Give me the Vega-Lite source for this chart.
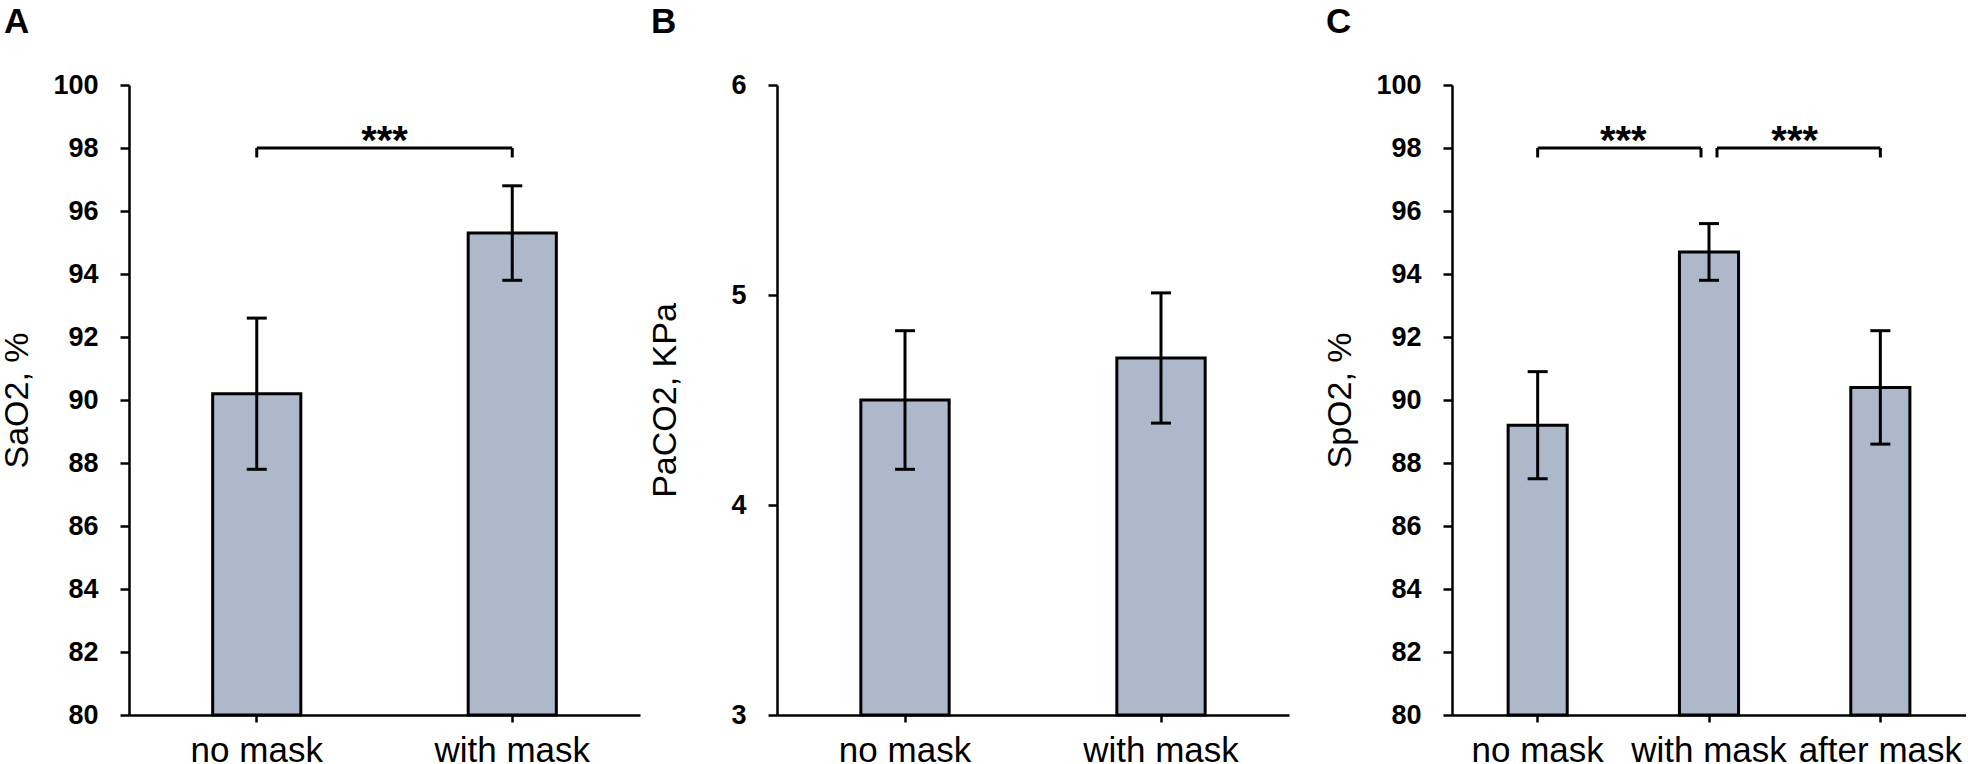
{
  "$schema": "https://vega.github.io/schema/vega-lite/v6.json",
  "padding": {"left": 0, "top": 5, "right": 0, "bottom": 0},
  "background": "white",
  "spacing": 34,
  "datasets": {
    "bars": [
      {"panel": "A", "group": "no mask", "value": 90.2, "lo": 87.8, "hi": 92.6},
      {"panel": "A", "group": "with mask", "value": 95.3, "lo": 93.8, "hi": 96.8},
      {"panel": "B", "group": "no mask", "value": 4.5, "lo": 4.17, "hi": 4.83},
      {"panel": "B", "group": "with mask", "value": 4.7, "lo": 4.39, "hi": 5.01},
      {"panel": "C", "group": "no mask", "value": 89.2, "lo": 87.5, "hi": 90.9},
      {"panel": "C", "group": "with mask", "value": 94.7, "lo": 93.8, "hi": 95.6},
      {"panel": "C", "group": "after mask", "value": 90.4, "lo": 88.6, "hi": 92.2}
    ],
    "brackets": [
      {"id": "A1", "from": "no mask", "to": "with mask", "y": 98, "drop": 97.7, "label": "***"},
      {"id": "C1", "from": "no mask", "to": "with mask", "y": 98, "drop": 97.7, "label": "***"},
      {"id": "C2", "from": "with mask", "to": "after mask", "y": 98, "drop": 97.7, "label": "***"}
    ]
  },
  "hconcat": [
    {
      "bounds": "flush",
      "spacing": 137,
      "hconcat": [
        {
          "title": {"text": "A", "anchor": "start", "frame": "group", "dx": -125, "fontSize": 35, "fontWeight": "bold", "baseline": "top", "offset": 31, "font": "Liberation Sans", "color": "black"},
          "width": 511,
          "height": 630,
          "layer": [
            {
              "data": {"name": "bars"},
              "transform": [{"filter": "datum.panel === 'A'"}],
              "mark": {"type": "bar", "fill": "#adb9cb", "stroke": "black", "strokeWidth": 3, "width": {"band": 0.345}},
              "encoding": {
                "x": {"field": "group", "type": "nominal", "scale": {"domain": ["no mask", "with mask"], "paddingInner": 0, "paddingOuter": 0}, "axis": {"title": null}},
                "y": {"field": "value", "type": "quantitative", "scale": {"domain": [80, 100], "nice": false, "zero": false}, "axis": {"title": "SaO2, %", "values": [80, 82, 84, 86, 88, 90, 92, 94, 96, 98, 100], "titleX": -95, "titleY": 315}},
                "y2": {"datum": 80}
              }
            },
            {
              "data": {"name": "bars"},
              "transform": [{"filter": "datum.panel === 'A'"}],
              "mark": {"type": "rule", "strokeWidth": 3, "color": "black"},
              "encoding": {"x": {"field": "group", "type": "nominal"}, "y": {"field": "lo", "type": "quantitative"}, "y2": {"field": "hi"}}
            },
            {
              "data": {"name": "bars"},
              "transform": [{"filter": "datum.panel === 'A'"}],
              "mark": {"type": "tick", "thickness": 3, "size": 20, "color": "black", "opacity": 1},
              "encoding": {"x": {"field": "group", "type": "nominal"}, "y": {"field": "lo", "type": "quantitative"}}
            },
            {
              "data": {"name": "bars"},
              "transform": [{"filter": "datum.panel === 'A'"}],
              "mark": {"type": "tick", "thickness": 3, "size": 20, "color": "black", "opacity": 1},
              "encoding": {"x": {"field": "group", "type": "nominal"}, "y": {"field": "hi", "type": "quantitative"}}
            },
            {
              "data": {"name": "brackets"},
              "transform": [{"filter": "datum.id === 'A1'"}],
              "mark": {"type": "rule", "strokeWidth": 3, "color": "black"},
              "encoding": {"x": {"field": "from", "type": "nominal"}, "x2": {"field": "to"}, "y": {"field": "y", "type": "quantitative"}}
            },
            {
              "data": {"name": "brackets"},
              "transform": [{"filter": "datum.id === 'A1'"}],
              "mark": {"type": "rule", "strokeWidth": 3, "color": "black"},
              "encoding": {"x": {"field": "from", "type": "nominal"}, "y": {"field": "y", "type": "quantitative"}, "y2": {"field": "drop"}}
            },
            {
              "data": {"name": "brackets"},
              "transform": [{"filter": "datum.id === 'A1'"}],
              "mark": {"type": "rule", "strokeWidth": 3, "color": "black"},
              "encoding": {"x": {"field": "to", "type": "nominal"}, "y": {"field": "y", "type": "quantitative"}, "y2": {"field": "drop"}}
            },
            {
              "data": {"name": "brackets"},
              "transform": [{"filter": "datum.id === 'A1'"}],
              "mark": {"type": "text", "fontSize": 40, "fontWeight": "bold", "baseline": "alphabetic", "dy": 6, "align": "center", "color": "black"},
              "encoding": {"x": {"field": "from", "type": "nominal", "bandPosition": 1}, "y": {"field": "y", "type": "quantitative"}, "text": {"field": "label"}}
            }
          ]
        },
        {
          "title": {"text": "B", "anchor": "start", "frame": "group", "dx": -126, "fontSize": 35, "fontWeight": "bold", "baseline": "top", "offset": 31, "font": "Liberation Sans", "color": "black"},
          "width": 512,
          "height": 630,
          "layer": [
            {
              "data": {"name": "bars"},
              "transform": [{"filter": "datum.panel === 'B'"}],
              "mark": {"type": "bar", "fill": "#adb9cb", "stroke": "black", "strokeWidth": 3, "width": {"band": 0.345}},
              "encoding": {
                "x": {"field": "group", "type": "nominal", "scale": {"domain": ["no mask", "with mask"], "paddingInner": 0, "paddingOuter": 0}, "axis": {"title": null}},
                "y": {"field": "value", "type": "quantitative", "scale": {"domain": [3, 6], "nice": false, "zero": false}, "axis": {"title": "PaCO2, KPa", "values": [3, 4, 5, 6], "format": "d", "titleX": -95, "titleY": 315}},
                "y2": {"datum": 3}
              }
            },
            {
              "data": {"name": "bars"},
              "transform": [{"filter": "datum.panel === 'B'"}],
              "mark": {"type": "rule", "strokeWidth": 3, "color": "black"},
              "encoding": {"x": {"field": "group", "type": "nominal"}, "y": {"field": "lo", "type": "quantitative"}, "y2": {"field": "hi"}}
            },
            {
              "data": {"name": "bars"},
              "transform": [{"filter": "datum.panel === 'B'"}],
              "mark": {"type": "tick", "thickness": 3, "size": 20, "color": "black", "opacity": 1},
              "encoding": {"x": {"field": "group", "type": "nominal"}, "y": {"field": "lo", "type": "quantitative"}}
            },
            {
              "data": {"name": "bars"},
              "transform": [{"filter": "datum.panel === 'B'"}],
              "mark": {"type": "tick", "thickness": 3, "size": 20, "color": "black", "opacity": 1},
              "encoding": {"x": {"field": "group", "type": "nominal"}, "y": {"field": "hi", "type": "quantitative"}}
            }
          ]
        }
      ]
    },
    {
      "title": {"text": "C", "anchor": "start", "frame": "group", "dx": -126, "fontSize": 35, "fontWeight": "bold", "baseline": "top", "offset": 31, "font": "Liberation Sans", "color": "black"},
      "width": 514,
      "height": 630,
      "layer": [
        {
          "data": {"name": "bars"},
          "transform": [{"filter": "datum.panel === 'C'"}],
          "mark": {"type": "bar", "fill": "#adb9cb", "stroke": "black", "strokeWidth": 3, "width": {"band": 0.345}},
          "encoding": {
            "x": {"field": "group", "type": "nominal", "scale": {"domain": ["no mask", "with mask", "after mask"], "paddingInner": 0, "paddingOuter": 0}, "axis": {"title": null}},
            "y": {"field": "value", "type": "quantitative", "scale": {"domain": [80, 100], "nice": false, "zero": false}, "axis": {"title": "SpO2, %", "values": [80, 82, 84, 86, 88, 90, 92, 94, 96, 98, 100], "titleX": -95, "titleY": 315}},
            "y2": {"datum": 80}
          }
        },
        {
          "data": {"name": "bars"},
          "transform": [{"filter": "datum.panel === 'C'"}],
          "mark": {"type": "rule", "strokeWidth": 3, "color": "black"},
          "encoding": {"x": {"field": "group", "type": "nominal"}, "y": {"field": "lo", "type": "quantitative"}, "y2": {"field": "hi"}}
        },
        {
          "data": {"name": "bars"},
          "transform": [{"filter": "datum.panel === 'C'"}],
          "mark": {"type": "tick", "thickness": 3, "size": 20, "color": "black", "opacity": 1},
          "encoding": {"x": {"field": "group", "type": "nominal"}, "y": {"field": "lo", "type": "quantitative"}}
        },
        {
          "data": {"name": "bars"},
          "transform": [{"filter": "datum.panel === 'C'"}],
          "mark": {"type": "tick", "thickness": 3, "size": 20, "color": "black", "opacity": 1},
          "encoding": {"x": {"field": "group", "type": "nominal"}, "y": {"field": "hi", "type": "quantitative"}}
        },
        {
          "data": {"name": "brackets"},
          "transform": [{"filter": "datum.id === 'C1'"}],
          "mark": {"type": "rule", "strokeWidth": 3, "color": "black", "x2Offset": -8},
          "encoding": {"x": {"field": "from", "type": "nominal"}, "x2": {"field": "to"}, "y": {"field": "y", "type": "quantitative"}}
        },
        {
          "data": {"name": "brackets"},
          "transform": [{"filter": "datum.id === 'C1'"}],
          "mark": {"type": "rule", "strokeWidth": 3, "color": "black"},
          "encoding": {"x": {"field": "from", "type": "nominal"}, "y": {"field": "y", "type": "quantitative"}, "y2": {"field": "drop"}}
        },
        {
          "data": {"name": "brackets"},
          "transform": [{"filter": "datum.id === 'C1'"}],
          "mark": {"type": "rule", "strokeWidth": 3, "color": "black", "xOffset": -8},
          "encoding": {"x": {"field": "to", "type": "nominal"}, "y": {"field": "y", "type": "quantitative"}, "y2": {"field": "drop"}}
        },
        {
          "data": {"name": "brackets"},
          "transform": [{"filter": "datum.id === 'C2'"}],
          "mark": {"type": "rule", "strokeWidth": 3, "color": "black", "xOffset": 8},
          "encoding": {"x": {"field": "from", "type": "nominal"}, "x2": {"field": "to"}, "y": {"field": "y", "type": "quantitative"}}
        },
        {
          "data": {"name": "brackets"},
          "transform": [{"filter": "datum.id === 'C2'"}],
          "mark": {"type": "rule", "strokeWidth": 3, "color": "black", "xOffset": 8},
          "encoding": {"x": {"field": "from", "type": "nominal"}, "y": {"field": "y", "type": "quantitative"}, "y2": {"field": "drop"}}
        },
        {
          "data": {"name": "brackets"},
          "transform": [{"filter": "datum.id === 'C2'"}],
          "mark": {"type": "rule", "strokeWidth": 3, "color": "black"},
          "encoding": {"x": {"field": "to", "type": "nominal"}, "y": {"field": "y", "type": "quantitative"}, "y2": {"field": "drop"}}
        },
        {
          "data": {"name": "brackets"},
          "transform": [{"filter": "datum.id === 'C1' || datum.id === 'C2'"}],
          "mark": {"type": "text", "fontSize": 40, "fontWeight": "bold", "baseline": "alphabetic", "dy": 6, "align": "center", "color": "black"},
          "encoding": {"x": {"field": "from", "type": "nominal", "bandPosition": 1}, "y": {"field": "y", "type": "quantitative"}, "text": {"field": "label"}}
        }
      ]
    }
  ],
  "config": {
    "font": "Liberation Sans",
    "view": {"stroke": null},
    "axis": {
      "grid": false,
      "domainColor": "black",
      "domainWidth": 2.5,
      "tickColor": "black",
      "tickWidth": 2.5,
      "labelColor": "black",
      "titleColor": "black",
      "labelFont": "Liberation Sans",
      "titleFont": "Liberation Sans"
    },
    "axisX": {
      "labelAngle": 0,
      "labelFontSize": 35,
      "labelFontWeight": "normal",
      "tickSize": 7,
      "labelPadding": 11,
      "bandPosition": 0.5,
      "labelOverlap": false,
      "labelLimit": 0,
      "labelBound": false
    },
    "axisY": {
      "labelFontSize": 27,
      "labelFontWeight": "bold",
      "tickSize": 9,
      "labelPadding": 22,
      "titleFontSize": 34,
      "titleFontWeight": "normal",
      "titleBaseline": "bottom",
      "labelOverlap": false
    }
  }
}
